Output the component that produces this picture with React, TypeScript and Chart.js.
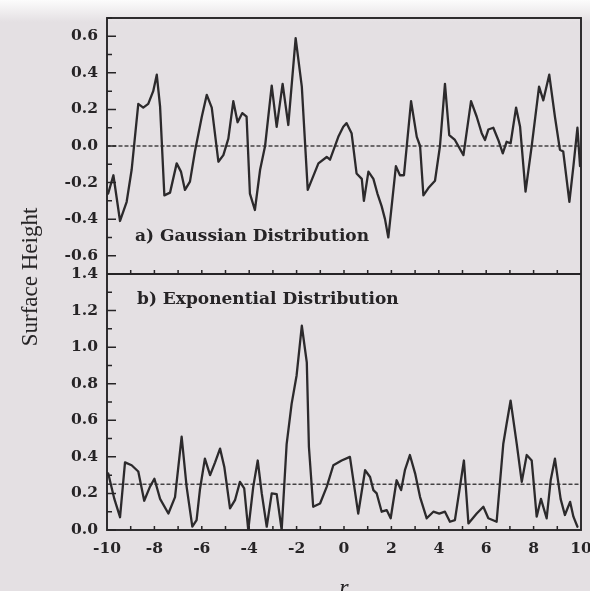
import { useEffect, useRef } from 'react';
import { Chart, registerables } from 'chart.js';

Chart.register(...registerables);

// Surface profile sampled along r (Gaussian height distribution)
const GAUSS_R = [
  -9.95, -9.73, -9.45, -9.17, -8.96, -8.68, -8.47, -8.26, -8.05, -7.9, -7.76, -7.58, -7.34,
  -7.06, -6.88, -6.71, -6.5, -6.29, -6.0, -5.79, -5.58, -5.3, -5.09, -4.88, -4.67, -4.49,
  -4.29, -4.11, -3.97, -3.76, -3.54, -3.33, -3.05, -2.84, -2.59, -2.35, -2.04, -1.78, -1.53,
  -1.08, -0.73, -0.59, -0.24, -0.03, 0.11, 0.32, 0.53, 0.75, 0.84, 1.03, 1.24, 1.41, 1.59,
  1.73, 1.87, 2.01, 2.19, 2.36, 2.53, 2.83, 3.07, 3.21, 3.35, 3.56, 3.84, 4.05, 4.26, 4.44,
  4.68, 5.04, 5.36, 5.6, 5.81, 5.95, 6.09, 6.3, 6.51, 6.7, 6.86, 7.03, 7.26, 7.43, 7.66,
  7.92, 8.23, 8.41, 8.66, 8.9, 9.11, 9.25, 9.51, 9.68, 9.85, 9.96,
];
const GAUSS_H = [
  -0.26, -0.16, -0.41, -0.305, -0.13, 0.23, 0.21, 0.23, 0.3, 0.39, 0.215, -0.27, -0.255,
  -0.095, -0.14, -0.24, -0.195, -0.03, 0.16, 0.28, 0.21, -0.086, -0.05, 0.04, 0.245, 0.13,
  0.18, 0.16, -0.26, -0.35, -0.13, 0.0, 0.33, 0.105, 0.34, 0.115, 0.59, 0.325, -0.24,
  -0.095, -0.06, -0.075, 0.05, 0.105, 0.125, 0.07, -0.15, -0.18, -0.3, -0.14, -0.18, -0.26,
  -0.33, -0.4, -0.5, -0.33, -0.11, -0.16, -0.16, 0.245, 0.05, 0.0, -0.27, -0.23, -0.19, 0.0,
  0.34, 0.06, 0.033, -0.05, 0.245, 0.16, 0.07, 0.033, 0.09, 0.1, 0.033, -0.04, 0.023, 0.015,
  0.21, 0.105, -0.25, 0.0, 0.325, 0.25, 0.39, 0.16, -0.02, -0.03, -0.305, -0.11, 0.1, -0.11,
];

// Surface profile sampled along r (exponential height distribution)
const EXPO_R = [
  -9.95, -9.69, -9.45, -9.24, -8.96, -8.68, -8.43, -8.19, -8.0, -7.76, -7.41, -7.13, -6.85,
  -6.64, -6.4, -6.22, -6.08, -5.87, -5.65, -5.44, -5.23, -5.05, -4.81, -4.6, -4.39, -4.21,
  -4.04, -3.83, -3.64, -3.47, -3.26, -3.05, -2.84, -2.63, -2.42, -2.21, -2.0, -1.78, -1.57,
  -1.48, -1.3, -1.01, -0.73, -0.45, -0.1, 0.25, 0.6, 0.89, 1.1, 1.24, 1.38, 1.59, 1.8, 1.97,
  2.22, 2.41, 2.57, 2.78, 3.0, 3.21, 3.49, 3.77, 4.02, 4.26, 4.47, 4.68, 5.06, 5.25, 5.6,
  5.88, 6.09, 6.44, 6.72, 6.86, 7.03, 7.29, 7.5, 7.71, 7.92, 8.13, 8.31, 8.55, 8.72, 8.9,
  9.14, 9.32, 9.54, 9.68, 9.85,
];
const EXPO_H = [
  0.31, 0.17, 0.07, 0.37, 0.354, 0.32, 0.16, 0.236, 0.28, 0.17, 0.09, 0.18, 0.51, 0.236,
  0.018, 0.054, 0.22, 0.39, 0.3, 0.37, 0.445, 0.345, 0.118, 0.163, 0.263, 0.227, 0.0, 0.236,
  0.38, 0.2, 0.018, 0.2, 0.196, 0.0, 0.47, 0.69, 0.845, 1.117, 0.917, 0.454, 0.127, 0.145,
  0.236, 0.354, 0.38, 0.4, 0.09, 0.327, 0.29, 0.218, 0.2, 0.1, 0.109, 0.064, 0.272, 0.218,
  0.327, 0.41, 0.31, 0.18, 0.064, 0.1, 0.09, 0.1, 0.045, 0.054, 0.38, 0.036, 0.09, 0.127,
  0.064, 0.045, 0.47, 0.58, 0.708, 0.47, 0.263, 0.41, 0.38, 0.073, 0.17, 0.064, 0.272, 0.39,
  0.17, 0.082, 0.154, 0.073, 0.018,
];

// Mean heights (dotted reference lines)
const GAUSS_MEAN = 0;
const EXPO_MEAN = 0.25;

const R_RANGE = [-10, 10];
const R_TICKS = [-10, -8, -6, -4, -2, 0, 2, 4, 6, 8, 10];
const GAUSS_RANGE = [-0.7, 0.7];
const GAUSS_TICKS = [-0.6, -0.4, -0.2, 0.0, 0.2, 0.4, 0.6];
const EXPO_RANGE = [0, 1.4];
const EXPO_TICKS = [0.0, 0.2, 0.4, 0.6, 0.8, 1.0, 1.2, 1.4];

const PANEL_A = 'a) Gaussian Distribution';
const PANEL_B = 'b) Exponential Distribution';
const Y_TITLE = 'Surface Height';
const X_TITLE = 'r';

const INK = '#262426';
const TICK_FONT = { family: "'DejaVu Serif', serif", weight: 'bold' as const, size: 15.5 };

const toPoints = (xs: number[], ys: number[]) => xs.map((x, i) => ({ x, y: ys[i] }));
const flat = (v: number) => [
  { x: R_RANGE[0], y: v },
  { x: R_RANGE[1], y: v },
];

const framePlugin = {
  id: 'paperFrame',
  beforeDraw(chart: any) {
    const { ctx, width, height } = chart;
    ctx.save();
    ctx.fillStyle = '#e4e0e3';
    ctx.fillRect(0, 0, width, height);
    const g = ctx.createLinearGradient(0, 0, 0, 22);
    g.addColorStop(0, 'rgba(252,252,252,1)');
    g.addColorStop(1, 'rgba(252,252,252,0)');
    ctx.fillStyle = g;
    ctx.fillRect(0, 0, width, 22);
    ctx.restore();
  },
  afterDraw(chart: any) {
    const { ctx, chartArea } = chart;
    const xs = chart.scales.x;
    const yT = chart.scales.yTop;
    const yB = chart.scales.yBottom;
    ctx.save();
    ctx.strokeStyle = INK;
    ctx.lineWidth = 1.9;
    ctx.strokeRect(chartArea.left, chartArea.top, chartArea.right - chartArea.left, chartArea.bottom - chartArea.top);
    ctx.beginPath();
    ctx.moveTo(chartArea.left, yT.bottom);
    ctx.lineTo(chartArea.right, yT.bottom);
    ctx.stroke();

    // inward ticks on the left edge: major every 0.2, minor in between
    ctx.lineWidth = 1.5;
    const yTicks = (scale: any, ticks: number[]) => {
      ctx.beginPath();
      ticks.forEach((v, i) => {
        const p = scale.getPixelForValue(v);
        ctx.moveTo(chartArea.left, p);
        ctx.lineTo(chartArea.left + 9, p);
        if (i < ticks.length - 1) {
          const m = scale.getPixelForValue((v + ticks[i + 1]) / 2);
          ctx.moveTo(chartArea.left, m);
          ctx.lineTo(chartArea.left + 5, m);
        }
      });
      ctx.stroke();
    };
    yTicks(yT, GAUSS_TICKS);
    yTicks(yB, EXPO_TICKS);
    // minor ticks just past the end labels of the upper panel
    ctx.beginPath();
    [GAUSS_TICKS[0] - 0.1, GAUSS_TICKS[GAUSS_TICKS.length - 1] + 0.1].forEach((v) => {
      const p = yT.getPixelForValue(v);
      ctx.moveTo(chartArea.left, p);
      ctx.lineTo(chartArea.left + 5, p);
    });
    ctx.stroke();

    // small upward r ticks along the bottom of each panel
    ctx.beginPath();
    for (let r = R_RANGE[0] + 1; r < R_RANGE[1]; r += 1) {
      const p = xs.getPixelForValue(r);
      [yT.bottom, yB.bottom].forEach((b) => {
        ctx.moveTo(p, b);
        ctx.lineTo(p, b - 4);
      });
    }
    ctx.stroke();

    // panel captions
    ctx.fillStyle = INK;
    ctx.font = "bold 17px 'DejaVu Serif', serif";
    ctx.textAlign = 'left';
    ctx.textBaseline = 'alphabetic';
    ctx.fillText(PANEL_A, chartArea.left + 28, yT.bottom - 33);
    ctx.fillText(PANEL_B, chartArea.left + 30, yB.top + 30);

    // axis titles
    ctx.font = "23px 'Liberation Serif', serif";
    ctx.textAlign = 'center';
    ctx.save();
    ctx.translate(37, yT.bottom + 3);
    ctx.rotate(-Math.PI / 2);
    ctx.fillText(Y_TITLE, 0, 0);
    ctx.restore();
    ctx.font = "italic 24px 'Liberation Serif', serif";
    ctx.fillText(X_TITLE, xs.getPixelForValue(0), chart.height + 4);
    ctx.restore();
  },
};

export default function App() {
  const ref = useRef<HTMLCanvasElement | null>(null);

  useEffect(() => {
    if (!ref.current) return;
    const tickLabel = (v: any) => Number(v).toFixed(1);
    const yBase = (range: number[], ticks: number[]) => ({
      type: 'linear' as const,
      position: 'left' as const,
      stack: 'panels',
      stackWeight: 1,
      min: range[0],
      max: range[1],
      afterBuildTicks: (s: any) => {
        s.ticks = ticks.map((value) => ({ value }));
      },
      afterFit: (s: any) => {
        s.width = 62;
        s.paddingTop = 0;
        s.paddingBottom = 0;
      },
      grid: { display: false, drawTicks: false },
      border: { display: false },
      ticks: { font: TICK_FONT, color: INK, padding: 9, autoSkip: false, callback: tickLabel },
    });

    const chart = new Chart(ref.current, {
      type: 'line',
      data: {
        datasets: [
          {
            data: toPoints(EXPO_R, EXPO_H),
            yAxisID: 'yBottom',
            borderColor: '#2c2a2c',
            borderWidth: 2.3,
          },
          {
            data: flat(EXPO_MEAN),
            yAxisID: 'yBottom',
            borderColor: '#444244',
            borderWidth: 1.4,
            borderDash: [3, 3],
          },
          {
            data: toPoints(GAUSS_R, GAUSS_H),
            yAxisID: 'yTop',
            borderColor: '#2c2a2c',
            borderWidth: 2.3,
          },
          {
            data: flat(GAUSS_MEAN),
            yAxisID: 'yTop',
            borderColor: '#444244',
            borderWidth: 1.4,
            borderDash: [3, 3],
          },
        ],
      },
      options: {
        responsive: false,
        animation: false,
        events: [],
        layout: { padding: { left: 45, right: 9, top: 18, bottom: 21 } },
        elements: {
          point: { radius: 0 },
          line: { tension: 0, borderJoinStyle: 'round', borderCapStyle: 'round' },
        },
        plugins: { legend: { display: false }, tooltip: { enabled: false } },
        scales: {
          x: {
            type: 'linear',
            min: R_RANGE[0],
            max: R_RANGE[1],
            afterBuildTicks: (s: any) => {
              s.ticks = R_TICKS.map((value) => ({ value }));
            },
            afterFit: (s: any) => {
              s.height = 40;
              s.paddingLeft = 0;
              s.paddingRight = 0;
            },
            grid: { display: false, drawTicks: false },
            border: { display: false },
            ticks: { font: TICK_FONT, color: INK, padding: 10, maxRotation: 0, autoSkip: false, callback: (v: any) => String(v) },
          },
          yBottom: yBase(EXPO_RANGE, EXPO_TICKS),
          yTop: yBase(GAUSS_RANGE, GAUSS_TICKS),
        },
      },
      plugins: [framePlugin],
    });
    return () => chart.destroy();
  }, []);

  return (
    <div style={{ position: 'fixed', left: 0, top: 0, width: 590, height: 591 }}>
      <canvas ref={ref} width={590} height={591} style={{ display: 'block', width: 590, height: 591 }} />
    </div>
  );
}
